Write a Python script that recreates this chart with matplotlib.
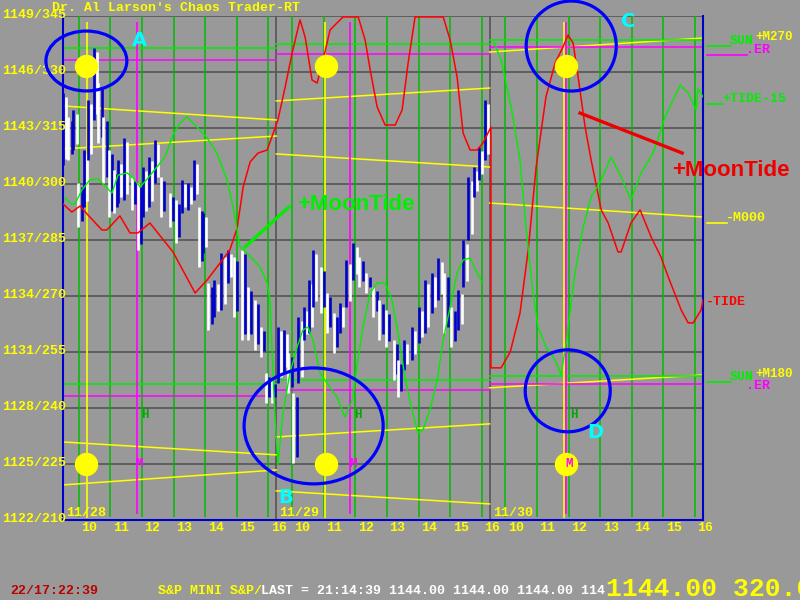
import matplotlib.pyplot as plt
from matplotlib.patches import Ellipse
from matplotlib.lines import Line2D
import numpy as np

# x axis = trading hours counted from 9:30 on 11/28, each session 9:30-16:15 (6.75 h)
days = ['11/28', '11/29', '11/30']
day_len = 6.75
hours = [10, 11, 12, 13, 14, 15, 16]
price_ticks = [1149, 1146, 1143, 1140, 1137, 1134, 1131, 1128, 1125, 1122]
tick_codes = [345, 330, 315, 300, 285, 270, 255, 240, 225, 210]

# S&P mini price bars (high / low)
bar_x = [0.06, 0.22, 0.38, 0.54, 0.70, 0.85, 1.04, 1.17, 1.33, 1.49,
         1.65, 1.80, 1.99, 2.22, 2.41, 2.59, 2.78, 2.97, 3.16, 3.42,
         3.61, 3.80, 3.99, 4.18, 4.34, 4.49, 4.65, 4.84, 5.06, 5.28,
         5.47, 5.70, 5.89, 6.11, 6.30, 6.46, 6.65,
         6.84, 7.03, 7.18, 7.34, 7.50, 7.66, 7.82, 7.97, 8.20, 8.39,
         8.61, 8.80, 9.02, 9.24, 9.43, 9.65, 9.87, 10.06, 10.28, 10.51,
         10.66, 10.85, 11.08, 11.30, 11.49, 11.71, 11.93, 12.12, 12.34, 12.56,
         12.72, 12.88, 13.04, 13.20, 13.39]
bar_hi = [1144.88, 1143.59, 1143.97, 1140.06, 1141.82, 1144.50, 1147.29, 1145.41, 1143.59, 1141.82,
          1140.75, 1141.29, 1142.47, 1140.38, 1140.06, 1140.91, 1141.45, 1142.36, 1140.38, 1139.52,
          1139.14, 1140.22, 1140.06, 1141.29, 1138.77, 1138.45, 1134.70, 1134.86, 1136.31, 1136.47,
          1136.09, 1136.47, 1134.49, 1133.79, 1132.34, 1129.88, 1129.50,
          1132.34, 1132.18, 1130.95, 1128.81, 1132.88, 1133.41, 1134.86, 1136.47, 1135.56, 1134.16,
          1133.09, 1133.63, 1135.93, 1136.84, 1136.09, 1135.24, 1134.49, 1133.79, 1133.25, 1131.65,
          1130.57, 1131.65, 1132.34, 1133.41, 1134.86, 1135.24, 1136.04, 1135.24, 1133.41, 1134.32,
          1137.00, 1140.38, 1140.91, 1141.98, 1144.50]
bar_lo = [1141.02, 1141.29, 1141.82, 1137.70, 1138.77, 1141.29, 1143.43, 1142.20, 1140.06, 1138.23,
          1138.45, 1138.98, 1139.14, 1138.61, 1136.47, 1138.23, 1138.77, 1140.06, 1138.23, 1137.70,
          1136.84, 1138.45, 1138.61, 1139.14, 1135.56, 1136.31, 1132.18, 1132.88, 1133.25, 1134.70,
          1132.88, 1131.65, 1131.65, 1131.11, 1130.74, 1128.27, 1128.27,
          1129.34, 1129.88, 1128.81, 1125.06, 1129.34, 1131.65, 1132.02, 1133.41, 1133.09, 1132.02,
          1130.95, 1132.02, 1133.41, 1134.86, 1134.49, 1134.16, 1132.88, 1131.65, 1131.27, 1129.50,
          1128.59, 1130.04, 1130.57, 1131.49, 1132.02, 1133.09, 1133.79, 1132.02, 1131.27, 1132.18,
          1134.49, 1137.00, 1139.31, 1140.22, 1141.29]

# -TIDE (red)
tide_x = [0.00, 0.28, 0.54, 0.79, 1.23, 1.39, 1.80, 2.12, 2.37, 2.75, 3.48, 4.18, 4.56, 4.97,
          5.28, 5.51, 5.70, 5.92, 6.17, 6.46, 6.80,
          7.03, 7.25, 7.50, 7.66, 7.88, 8.04, 8.23, 8.45, 8.67, 8.86, 9.34, 9.56, 9.72, 9.94,
          10.19, 10.51, 10.73, 10.92, 11.14, 12.03, 12.25, 12.47, 12.66, 12.88, 13.10, 13.29,
          13.54, 13.54, 13.86,
          14.15, 14.46, 14.72, 14.97, 15.28, 15.57, 15.82, 15.98, 16.14, 16.30, 16.52, 16.71,
          17.03, 17.25, 17.56, 17.66, 17.97, 18.26, 18.61, 18.92, 19.15, 19.56, 19.78, 19.94,
          20.19, 20.25]
tide_y = [1138.93, 1138.50, 1138.82, 1138.34, 1137.54, 1137.54, 1138.29, 1137.38, 1137.38, 1137.91,
          1136.36, 1134.16, 1134.86, 1135.77, 1136.47, 1137.64, 1139.84, 1141.18, 1141.66, 1141.82,
          1143.43,
          1145.20, 1147.02, 1148.79, 1147.88, 1145.57, 1145.41, 1146.64, 1148.25, 1148.63, 1148.95,
          1148.95, 1147.71, 1146.11, 1144.13, 1143.16, 1143.16, 1143.97, 1146.48, 1148.95, 1148.95,
          1147.71, 1145.73, 1142.73, 1141.82, 1141.82, 1142.20,
          1143.05, 1130.15, 1130.15,
          1131.00, 1133.09, 1136.47, 1140.91, 1144.66, 1146.48, 1147.34, 1147.98, 1147.55, 1145.73,
          1143.05, 1141.29, 1138.61, 1137.91, 1136.36, 1136.36, 1137.91, 1138.61, 1137.16, 1136.09,
          1135.02, 1133.25, 1132.56, 1132.56, 1133.25, 1133.79]

# +MoonTide (green), gap between 11/29 and 11/30
moon_x = [0.06, 0.28, 0.38, 0.60, 0.85, 1.11, 1.33, 1.55, 1.74, 2.03, 2.22, 2.44, 2.69, 2.97,
          3.23, 3.48, 3.70, 3.92, 4.24, 4.56, 4.87, 5.19, 5.38, 5.60, 5.85, 6.23, 6.46, 6.55,
          6.68, 6.80,
          6.96, 7.18, 7.41, 7.59, 7.75, 7.91, 8.13, 8.35, 8.67, 8.92, 9.15, 9.30, 9.49, 9.72,
          9.94, 10.19, 10.41, 10.60, 10.82, 11.04, 11.23, 11.39, 11.61, 11.84, 12.03, 12.25,
          12.47, 12.66, 12.88, 13.10, 13.26,
          np.nan,
          13.61, 13.86, 14.18, 14.46, 14.65, 14.87, 15.03, 15.28, 15.57, 15.76, 15.92, 16.20,
          16.46, 16.71, 17.03, 17.34, 17.66, 17.97, 18.29, 18.67, 19.05, 19.53, 19.78, 20.03,
          20.09, 20.25]
moon_y = [1139.25, 1138.93, 1138.93, 1139.68, 1140.22, 1140.27, 1139.89, 1139.52, 1140.48, 1140.59,
          1140.32, 1139.84, 1140.32, 1140.91, 1141.45, 1142.63, 1143.27, 1143.59, 1143.05, 1142.47,
          1141.66, 1140.22, 1138.77, 1136.63, 1136.25, 1135.56, 1134.70, 1133.79, 1128.43, 1124.95,
          1127.74, 1129.88, 1131.27, 1132.18, 1132.34, 1131.65, 1129.88, 1129.34, 1128.59, 1127.52,
          1128.43, 1130.20, 1132.34, 1134.16, 1134.70, 1134.70, 1133.79, 1132.02, 1129.66, 1127.90,
          1126.67, 1126.83, 1127.90, 1129.50, 1131.65, 1133.41, 1135.24, 1135.93, 1136.04, 1135.24,
          1134.75,
          np.nan,
          1147.71, 1146.64, 1144.13, 1141.29, 1137.70, 1134.16, 1132.34, 1131.27, 1130.57, 1129.77,
          1131.49, 1135.24, 1137.70, 1139.31, 1140.22, 1141.45, 1140.38, 1139.14, 1140.59, 1141.66,
          1143.59, 1145.30, 1144.88, 1143.97, 1145.14, 1144.66]

# sun / moon harmonic lines per session: (start value, end value)
sun_upper = [(1144.18, 1143.43), (1144.45, 1145.14), (1147.07, 1147.82)]
sun_lower = [(1141.88, 1142.57), (1141.61, 1140.91), (1138.98, 1138.23)]
sun_low_a = [(1126.18, 1125.49), (1126.45, 1127.15), (1129.08, 1129.77)]
sun_low_b = [(1123.88, 1124.68), (1123.56, 1122.86)]
green_top = [1147.29, 1147.50, 1147.71]
green_bot = [1129.29, 1129.50, 1129.72]
mag_top = [1146.64, 1146.96, 1147.34]
mag_bot = [1128.65, 1128.97, 1129.29]

# event times
sun_times = [0.73, 8.31, 15.90]
sun_line_times = [0.76, 8.29, 15.84]
moon_times = [2.33, 9.09, 15.92]
sun_dot_prices = [1146.32, 1125.00]

GRAY = '#999999'
mono = 'Liberation Mono'
FS = 9.5

fig = plt.figure(figsize=(8, 6), dpi=100, facecolor=GRAY)
ax = fig.add_axes([63 / 800, 1 - 520 / 600, 640 / 800, 504 / 600])
ax.set_facecolor(GRAY)
ax.set_xlim(0, 3 * day_len)
ax.set_ylim(1122, 1149)
ax.set_xticks([])
ax.set_yticks([])
for s in ['left', 'bottom', 'right']:
    ax.spines[s].set_color('#0000cc')
    ax.spines[s].set_linewidth(1.5)
ax.spines['top'].set_visible(False)

# grid
ax.hlines(price_ticks, 0, 3 * day_len, colors='#555555', lw=1.2, zorder=1)
ax.vlines([day_len, 2 * day_len], 1122, 1149, colors='#555555', lw=1.2, zorder=1)
for d in range(3):
    hx = [d * day_len + h - 9.5 for h in hours]
    ax.vlines(hx, 1122.15, 1149, colors='#00bb00', lw=1.1, zorder=1)

# harmonic lines
for d in range(3):
    x0, x1 = d * day_len, (d + 1) * day_len
    ax.plot([x0, x1], sun_upper[d], color='yellow', lw=1.1, zorder=2)
    ax.plot([x0, x1], sun_lower[d], color='yellow', lw=1.1, zorder=2)
    ax.plot([x0, x1], sun_low_a[d], color='yellow', lw=1.1, zorder=2)
    if d < len(sun_low_b):
        ax.plot([x0, x1], sun_low_b[d], color='yellow', lw=1.1, zorder=2)
    ax.plot([x0, x1], [green_top[d]] * 2, color='#00ee00', lw=1.1, zorder=2)
    ax.plot([x0, x1], [green_bot[d]] * 2, color='#00ee00', lw=1.1, zorder=2)
    ax.plot([x0, x1], [mag_top[d]] * 2, color='#ff00ff', lw=1.1, zorder=2)
    ax.plot([x0, x1], [mag_bot[d]] * 2, color='#ff00ff', lw=1.1, zorder=2)

ax.vlines(sun_line_times, 1122.1, 1148.7, colors='yellow', lw=1.2, zorder=2)
ax.vlines(moon_times, 1122.3, 1148.7, colors='#ff00ff', lw=1.2, zorder=2)

# price bars
for i in range(len(bar_x)):
    up = i == 0 or (bar_hi[i] + bar_lo[i]) >= (bar_hi[i - 1] + bar_lo[i - 1])
    c1, c2 = ('#0000cc', 'white') if up else ('white', '#0000cc')
    ax.vlines(bar_x[i] - 0.05, bar_lo[i], bar_hi[i], colors=c1, lw=1.9, zorder=3)
    ax.vlines(bar_x[i] + 0.05, bar_lo[i] + 0.3, bar_hi[i] - 0.2, colors=c2, lw=1.9, zorder=3)

ax.plot(tide_x, tide_y, color='red', lw=1.1, zorder=4)
ax.plot(moon_x, moon_y, color='#00ee00', lw=1.0, zorder=4)

# sun dots, M and H markers
for t in sun_times:
    ax.scatter([t, t], sun_dot_prices, s=250, color='yellow', zorder=5, clip_on=False)
for t in moon_times:
    ax.text(t + 0.08, 1125.0, 'M', color='#ff00ff', family=mono, fontweight='bold',
            fontsize=9, ha='center', va='center', zorder=6)
    ax.text(t + 0.25, 1127.63, 'H', color='#00aa00', family=mono, fontweight='bold',
            fontsize=9, ha='center', va='center', zorder=6)

# circled areas
circles = [(0.74, 1146.59, 2.56, 3.21), (7.93, 1127.04, 4.40, 6.21),
           (16.08, 1147.39, 2.85, 4.82), (15.97, 1128.92, 2.69, 4.39)]
for cx, cy, w, h in circles:
    ax.add_patch(Ellipse((cx, cy), w, h, fill=False, ec='#0000ff', lw=2.3,
                         zorder=7, clip_on=False))
letters = [('A', 2.41, 1147.7), ('B', 7.03, 1123.2), ('C', 17.88, 1148.7), ('D', 16.84, 1126.7)]
for s, lx, ly in letters:
    ax.text(lx, ly, s, color='#00ffff', fontsize=14, fontweight='bold',
            ha='center', va='center', zorder=8, clip_on=False)

# MoonTide annotations
ax.plot([5.76, 7.15], [1136.63, 1138.77], color='#00ee00', lw=2.4, zorder=6)
ax.text(7.42, 1138.9, '+MoonTide', color='#00ee00', family='Liberation Sans',
        fontweight='bold', fontsize=16, ha='left', va='center', zorder=6)
ax.plot([16.36, 19.59], [1143.80, 1141.66], color='#ee0000', lw=2.4, zorder=6)
ax.text(19.27, 1140.75, '+MoonTide', color='#ee0000', family='Liberation Sans',
        fontweight='bold', fontsize=16, ha='left', va='center', zorder=6, clip_on=False)

# axis labels
ytr = ax.get_yaxis_transform()
for p, c in zip(price_ticks, tick_codes):
    ax.text(-0.0953, p + 0.05, f'{p}/{c}', transform=ytr, color='yellow', family=mono,
            fontweight='bold', fontsize=FS, ha='left', va='center')
xtr = ax.get_xaxis_transform()
for d in range(3):
    for h in hours:
        ax.text(d * day_len + h - 9.5 + 0.33, -0.016, str(h), transform=xtr, color='yellow',
                family=mono, fontweight='bold', fontsize=FS, ha='center', va='center')
    ax.text(d * day_len + 0.1, 0.014, days[d], transform=xtr, color='yellow', family=mono,
            fontweight='bold', fontsize=FS, ha='left', va='center')


def ftext(x, y, s, color, size=FS, **kw):
    fig.text(x / 800, 1 - y / 600, s, color=color, family=mono, fontweight='bold',
             fontsize=size, ha='left', va='center', **kw)


def fline(x0, x1, y, color):
    fig.add_artist(Line2D([x0 / 800, x1 / 800], [1 - y / 600] * 2, color=color, lw=1.2))


ftext(52, 8, "Dr. Al Larson's Chaos Trader-RT", 'yellow')

# right-hand labels
fline(707, 731, 46, '#00ee00')
ftext(730, 41, 'SUN', '#00ee00')
ftext(755, 37, '+M270', 'yellow', size=9)
fline(707, 747, 55, '#ff00ff')
ftext(746, 50, '.ER', '#ff00ff')
fline(707, 723, 104, '#00ee00')
ftext(722, 99, '+TIDE-15', '#00ee00')
fline(707, 727, 223, 'yellow')
ftext(726, 218, '-M000', 'yellow')
ftext(706, 302, '-TIDE', 'red')
fline(707, 731, 382, '#00ee00')
ftext(730, 377, 'SUN', '#00ee00')
ftext(755, 374, '+M180', 'yellow', size=9)
ftext(746, 386, '.ER', '#ff00ff')

# status line
ftext(10, 591, '22/17:22:39', '#bb0000')
ftext(158, 591, 'S&P MINI S&P/', 'yellow')
ftext(261, 591, 'LAST = 21:14:39 1144.00 1144.00 1144.00 114', 'white')
ftext(606, 589, '1144.00 320.0', 'yellow', size=19)

fig.savefig('out.png', dpi=100, facecolor=GRAY)
